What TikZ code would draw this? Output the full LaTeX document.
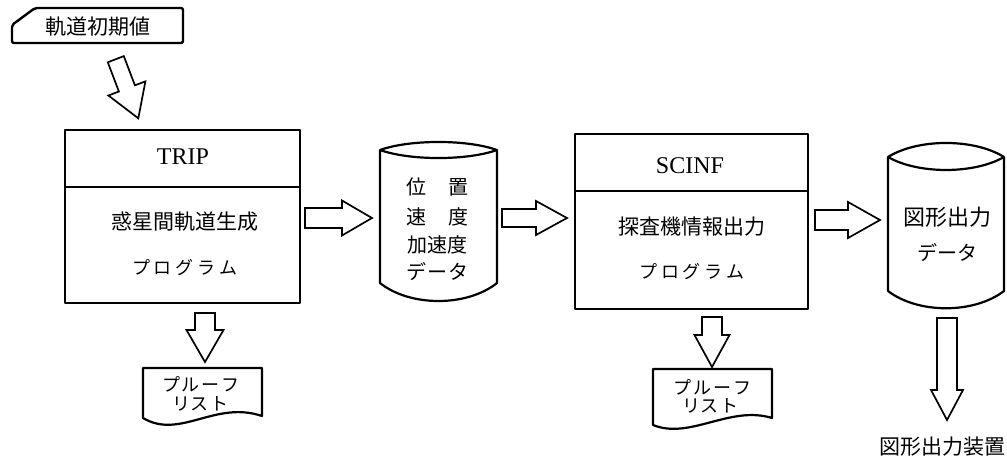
\documentclass[tikz,border=0pt]{standalone}
\usepackage{fontspec}
\setmainfont{Liberation Serif}
\newfontfamily\jp{Noto Sans CJK JP}
\newcommand\harrow[6]{\draw[blockarrow] (#1,{#3-#4}) -- ({#2-#6},{#3-#4}) -- ({#2-#6},{#3-#5}) -- (#2,#3) -- ({#2-#6},{#3+#5}) -- ({#2-#6},{#3+#4}) -- (#1,{#3+#4}) -- cycle;}
\newcommand\varrow[6]{\draw[blockarrow] ({#1-#4},#2) -- ({#1-#4},{#3-#6}) -- ({#1-#5},{#3-#6}) -- (#1,#3) -- ({#1+#5},{#3-#6}) -- ({#1+#4},{#3-#6}) -- ({#1+#4},#2) -- cycle;}
\begin{document}
\begin{tikzpicture}[x=1pt,y=-1pt,line join=round,
  box/.style={draw, line width=2.4pt, rectangle, inner sep=0pt},
  outline/.style={draw, line width=2.2pt},
  blockarrow/.style={draw, line width=1.7pt, fill=white, line join=miter},
  jt/.style={font=\jp\fontsize{21}{24}\selectfont, inner sep=0pt},
  ct/.style={font=\jp\fontsize{20}{24}\selectfont, inner sep=0pt},
  kt/.style={font=\jp\fontsize{18}{20}\selectfont, inner sep=0pt},
  dt/.style={font=\jp\fontsize{18}{20}\selectfont, inner sep=0pt},
  lt/.style={font=\fontsize{24}{26}\selectfont, inner sep=0pt}]
\useasboundingbox[fill=white] (0,0) rectangle (1007,461);

% initial values card
\draw[line width=2.4pt, rounded corners=2pt] (35,8) -- (183,8) -- (183,43) -- (12,43) -- (12,25) -- cycle;
\node[jt] (init) at (98,27) {軌道初期値};

% diagonal block arrow
\draw[blockarrow] (107.8,62.3) -- (118.9,91.5) -- (108.4,95.5) -- (138.3,118.3) -- (145.4,81.4) -- (134.9,85.3) -- (123.8,56.1) -- cycle;

% TRIP box
\node[box, minimum width=235pt, minimum height=173pt] (trip) at (182.5,216.5) {};
\draw[box] (65,187) -- (300,187);
\node[lt] (tripname) at (183,157) {TRIP};
\node[jt] (trip1) at (185,222) {惑星間軌道生成};
\node[kt] (trip2) at (185,268) {プ\hspace{4pt}ロ\hspace{4pt}グ\hspace{4pt}ラ\hspace{4pt}ム};

% cylinder 1
\draw[outline] (380,150) .. controls (410,139.3) and (467,139.3) .. (497,150) -- (497,283) .. controls (467,307) and (410,307) .. (380,283) -- cycle;
\draw[outline] (380,150) .. controls (410,160.7) and (467,160.7) .. (497,150);
\node[ct] (c1a) at (437,187) {\makebox[62pt][s]{位\hfill 置}};
\node[ct] (c1b) at (437,217) {\makebox[62pt][s]{速\hfill 度}};
\node[ct] (c1c) at (437,245) {加速度};
\node[ct] (c1d) at (437,272) {\makebox[62pt][s]{デ\hfill ー\hfill タ}};

% SCINF box
\node[box, minimum width=233pt, minimum height=175pt] (scinf) at (691.5,221.5) {};
\draw[box] (575,191) -- (808,191);
\node[lt] (scinfname) at (690,166) {SCINF};
\node[jt] (scinf1) at (692,227) {探査機情報出力};
\node[kt] (scinf2) at (692,272) {プ\hspace{4pt}ロ\hspace{4pt}グ\hspace{4pt}ラ\hspace{4pt}ム};

% cylinder 2
\draw[outline] (888,157) .. controls (918,138.3) and (974,138.3) .. (1004,157) -- (1004,291) .. controls (974,314) and (918,314) .. (888,291) -- cycle;
\draw[outline] (888,157) .. controls (918,174.3) and (974,174.3) .. (1004,157);
\node[ct, font=\jp\fontsize{22}{24}\selectfont] (c2a) at (947,217) {図形出力};
\node[ct] (c2b) at (947,253) {\makebox[60pt][s]{デ\hfill ー\hfill タ}};

% proof lists
\draw[outline] (143,368) -- (262,368) -- (262,416) .. controls (215,400) and (180,440) .. (143,418) -- cycle;
\node[dt] (p1a) at (201,384) {プ\hspace{2pt}ル\hspace{2pt}ー\hspace{2pt}フ};
\node[dt] (p1b) at (200,404) {リ\hspace{1pt}ス\hspace{1pt}ト};
\draw[outline] (653,369) -- (772,369) -- (772,418) .. controls (730,405) and (690,440) .. (653,425) -- cycle;
\node[dt] (p2a) at (712,387) {プ\hspace{2pt}ル\hspace{2pt}ー\hspace{2pt}フ};
\node[dt] (p2b) at (710,406) {リ\hspace{1pt}ス\hspace{1pt}ト};

% block arrows
\harrow{305}{372}{218}{10}{17.5}{30}
\harrow{502}{567}{218}{9}{17}{31}
\harrow{815}{880}{220}{10}{18}{32}
\varrow{205}{313}{362}{10}{18.5}{32}
\varrow{712}{317}{367}{10}{17.5}{32}
\varrow{947}{318}{420}{10}{16}{30}

\node[jt] (dev) at (942,447) {図形出力装置};
\end{tikzpicture}
\end{document}
